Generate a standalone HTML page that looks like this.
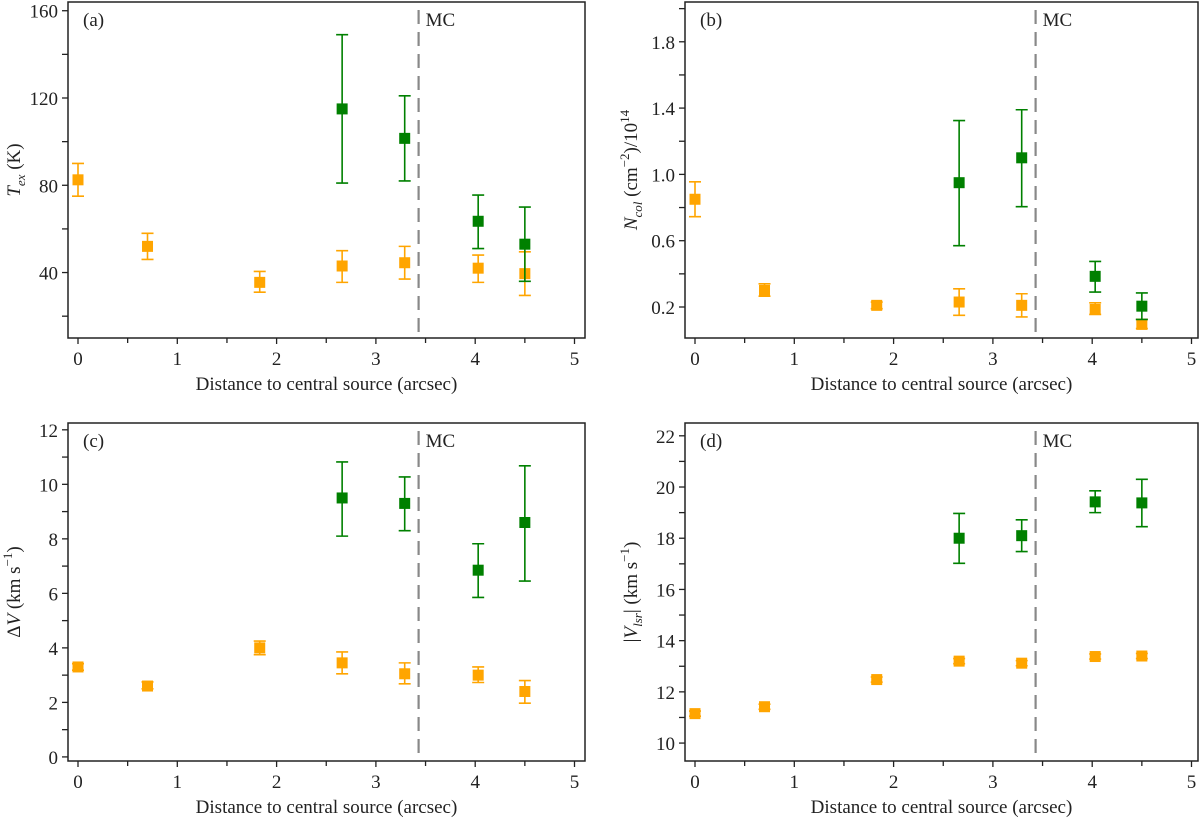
<!DOCTYPE html>
<html><head><meta charset="utf-8"><style>
html,body{margin:0;padding:0;background:#fff;}
svg{display:block;font-family:"Liberation Serif",serif;}
</style></head><body>
<svg id="fig" width="1200" height="818" viewBox="0 0 1200 818"></svg>
<script>
const xsOrange = [0, 0.70, 1.83, 2.66, 3.29, 4.03, 4.50];
const xsGreen = [2.66, 3.29, 4.03, 4.50];
const mcLine = 3.43;
const xTicks = [0,1,2,3,4,5];

const aOrange = [82.5,52,35.5,43,44.5,42,39.5];
const aOrangeLo = [75,46,31,35.5,37,35.5,29.5];
const aOrangeHi = [90,58,40.5,50,52,48,49.5];
const aGreen = [115,101.5,63.5,53];
const aGreenLo = [81,82,51,36];
const aGreenHi = [149,121,75.5,70];
const aTicks = ["40","80","120","160"];

const bOrange = [0.85,0.30,0.21,0.23,0.21,0.185,0.095];
const bOrangeLo = [0.745,0.265,0.19,0.15,0.14,0.155,0.07];
const bOrangeHi = [0.955,0.34,0.23,0.31,0.28,0.225,0.125];
const bGreen = [0.95,1.10,0.385,0.205];
const bGreenLo = [0.57,0.805,0.29,0.125];
const bGreenHi = [1.325,1.39,0.475,0.285];
const bTicks = ["0.2","0.6","1.0","1.4","1.8"];

const cOrange = [3.3,2.6,4.0,3.45,3.05,3.0,2.4];
const cOrangeLo = [3.18,2.5,3.75,3.05,2.68,2.73,1.97];
const cOrangeHi = [3.42,2.75,4.25,3.85,3.45,3.3,2.8];
const cGreen = [9.5,9.3,6.85,8.6];
const cGreenLo = [8.1,8.3,5.85,6.45];
const cGreenHi = [10.82,10.27,7.82,10.68];
const cTicks = ["0","2","4","6","8","10","12"];

const dOrange = [11.15,11.42,12.48,13.2,13.12,13.38,13.4];
const dOrangeLo = [11.05,11.32,12.38,13.1,13.02,13.28,13.3];
const dOrangeHi = [11.25,11.52,12.58,13.3,13.22,13.48,13.5];
const dGreen = [18.0,18.1,19.42,19.38];
const dGreenLo = [17.02,17.48,19.0,18.45];
const dGreenHi = [18.97,18.72,19.85,20.3];
const dTicks = ["10","12","14","16","18","20","22"];

const NS="http://www.w3.org/2000/svg";
const svg=document.getElementById('fig');
function mk(tag,attrs,parent){const e=document.createElementNS(NS,tag);for(const k in attrs)e.setAttribute(k,attrs[k]);(parent||svg).appendChild(e);return e;}

const panels=[
 {id:'a',L:68,R:585,T:2,B:338,ymin:10,ymax:164,ticks:aTicks,minor:20,o:[aOrange,aOrangeLo,aOrangeHi],g:[aGreen,aGreenLo,aGreenHi],
  ylab:'<tspan font-style="italic">T</tspan><tspan font-style="italic" font-size="13" dy="5">ex</tspan><tspan dy="-5"> (K)</tspan>'},
 {id:'b',L:685,R:1198,T:2,B:338,ymin:0.013,ymax:2.04,ticks:bTicks,minor:0.2,o:[bOrange,bOrangeLo,bOrangeHi],g:[bGreen,bGreenLo,bGreenHi],
  ylab:'<tspan font-style="italic">N</tspan><tspan font-style="italic" font-size="13" dy="5">col</tspan><tspan dy="-5"> (cm</tspan><tspan font-size="13" dy="-8">−2</tspan><tspan dy="8">)/10</tspan><tspan font-size="13" dy="-8">14</tspan>'},
 {id:'c',L:68,R:585,T:423,B:761,ymin:-0.15,ymax:12.25,ticks:cTicks,minor:1,o:[cOrange,cOrangeLo,cOrangeHi],g:[cGreen,cGreenLo,cGreenHi],
  ylab:'<tspan>Δ</tspan><tspan font-style="italic">V</tspan><tspan> (km s</tspan><tspan font-size="13" dy="-8">−1</tspan><tspan dy="8">)</tspan>'},
 {id:'d',L:685,R:1198,T:423,B:761,ymin:9.3,ymax:22.5,ticks:dTicks,minor:1,o:[dOrange,dOrangeLo,dOrangeHi],g:[dGreen,dGreenLo,dGreenHi],
  ylab:'<tspan>|</tspan><tspan font-style="italic">V</tspan><tspan font-style="italic" font-size="13" dy="5">lsr</tspan><tspan dy="-5">| (km s</tspan><tspan font-size="13" dy="-8">−1</tspan><tspan dy="8">)</tspan>'}
];

panels.forEach(p=>{
  const g=mk('g',{});
  
  
  const x0=p.L+10, ux=99.3;
  const X=v=>x0+v*ux;
  const Y=v=>p.B-(v-p.ymin)/(p.ymax-p.ymin)*(p.B-p.T);
  // x ticks
  for(let v=0;v<=5.001;v+=0.5){
    const major=Math.abs(v-Math.round(v))<1e-6;
    const t=mk('line',{x1:X(v),x2:X(v),y1:p.B,y2:p.B+(major?6:5),stroke:'#222','stroke-width':1.3},g);
    
    
  }
  xTicks.forEach(v=>{
    const t=mk('text',{x:X(v),y:p.B+27,'text-anchor':'middle','font-size':19,fill:'#222'},g);
    t.textContent=String(v);
    
    
  });
  const xl=mk('text',{x:(p.L+p.R)/2,y:p.B+52,'text-anchor':'middle','font-size':19,fill:'#222'},g);
  xl.textContent='Distance to central source (arcsec)';
  
  
  // y ticks
  const tv=p.ticks.map(Number);
  const step=tv[1]-tv[0];
  let start=tv[0];
  while(start-p.minor>=p.ymin-1e-9) start-=p.minor;
  for(let v=start;v<=p.ymax+1e-9;v+=p.minor){
    const t=mk('line',{x1:p.L-6,x2:p.L,y1:Y(v),y2:Y(v),stroke:'#222','stroke-width':1.3},g);
    
    
  }
  p.ticks.forEach(s=>{
    const t=mk('text',{x:p.L-10,y:Y(Number(s))+7,'text-anchor':'end','font-size':19,fill:'#222'},g);
    t.textContent=s;
    
    
  });
  const ylx=p.L-48, yly=(p.T+p.B)/2;
  const yl=mk('text',{x:ylx,y:yly,'text-anchor':'middle','font-size':19,fill:'#222',transform:`rotate(-90 ${ylx} ${yly})`},g);
  yl.innerHTML=p.ylab;
  
  
  // MC line
  const mc=mk('line',{x1:X(mcLine),x2:X(mcLine),y1:p.T+8,y2:p.B,stroke:'#888','stroke-width':2.2,'stroke-dasharray':'14,8'},g);
  
  
  const mct=mk('text',{x:X(mcLine)+7,y:p.T+24,'font-size':19,fill:'#222'},g);
  mct.textContent='MC';
  
  
  const pl=mk('text',{x:p.L+15,y:p.T+24,'font-size':19,fill:'#222'},g);
  pl.textContent='('+p.id+')';
  
  
  // series
  function series(xs,vals,lo,hi,col,name){
    xs.forEach((xv,i)=>{
      const cx=X(xv);
      const e=mk('path',{d:`M${cx},${Y(lo[i])}V${Y(hi[i])}M${cx-6},${Y(lo[i])}H${cx+6}M${cx-6},${Y(hi[i])}H${cx+6}`,stroke:col,'stroke-width':1.6,fill:'none'},g);
      
      
      const m=mk('rect',{x:cx-5.5,y:Y(vals[i])-5.5,width:11,height:11,fill:col},g);
      
      
    });
  }
  series(xsOrange,p.o[0],p.o[1],p.o[2],'#ffa500','orange');
  series(xsGreen,p.g[0],p.g[1],p.g[2],'#008000','green');
  const fr=mk('rect',{x:p.L,y:p.T,width:p.R-p.L,height:p.B-p.T,fill:'none',stroke:'#222','stroke-width':1.5},g);
  
  
});
</script>
</body></html>
